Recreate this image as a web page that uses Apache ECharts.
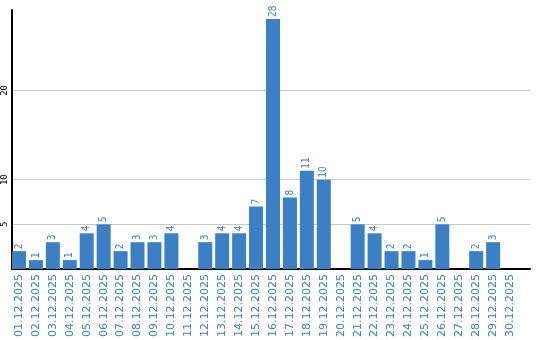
<!DOCTYPE html>
<html><head><meta charset="utf-8">
<script src="https://cdn.jsdelivr.net/npm/echarts@6/dist/echarts.min.js"></script>
<style>html,body{margin:0;padding:0;background:#fff}#c{width:540px;height:340px}</style>
</head><body><div id="c"></div>
<script>
const categories = ['01.12.2025','02.12.2025','03.12.2025','04.12.2025','05.12.2025','06.12.2025','07.12.2025','08.12.2025','09.12.2025','10.12.2025','11.12.2025','12.12.2025','13.12.2025','14.12.2025','15.12.2025','16.12.2025','17.12.2025','18.12.2025','19.12.2025','20.12.2025','21.12.2025','22.12.2025','23.12.2025','24.12.2025','25.12.2025','26.12.2025','27.12.2025','28.12.2025','29.12.2025','30.12.2025'];
const values = [2,1,3,1,4,5,2,3,3,4,0,3,4,4,7,28,8,11,10,0,5,4,2,2,1,5,0,2,3,0];
const yTicks = [5,10,20];

const blue = '#3b7fc4';
const chart = echarts.init(document.getElementById('c'), null, {renderer:'canvas'});
chart.setOption({
  animation:false,
  grid:{left:10,right:10,top:10,bottom:70,containLabel:false},
  xAxis:{
    type:'value', min:-7/17, max:(513/17),
    axisLine:{show:true,onZero:false,lineStyle:{color:'#000',width:2}},
    axisTick:{show:false, customValues:categories.map((c,i)=>i)},
    splitLine:{show:false},
    axisLabel:{customValues:categories.map((c,i)=>i), rotate:90, color:blue, fontFamily:'DejaVu Sans', fontSize:11, margin:5,
      formatter:v=>categories[Math.round(v)]||''}
  },
  yAxis:{
    type:'value', min:0, max:29,
    axisLine:{show:true,onZero:false,lineStyle:{color:'#000',width:2}},
    axisTick:{show:false, customValues:yTicks},
    splitLine:{show:true,lineStyle:{color:'#c8c8c8',width:1}},
    axisLabel:{customValues:yTicks, rotate:90, color:'#000', fontFamily:'DejaVu Sans Mono', fontSize:9, margin:3}
  },
  series:[{
    type:'bar', barWidth:14,
    data:values.map((v,i)=>[i,v]),
    itemStyle:{color:blue},
    label:{show:true, position:'top', rotate:90, align:'left', verticalAlign:'middle', distance:2,
      color:blue, fontFamily:'DejaVu Sans Condensed', fontSize:10,
      formatter:p=>p.value[1]?String(p.value[1]):''}
  }]
});
</script></body></html>
